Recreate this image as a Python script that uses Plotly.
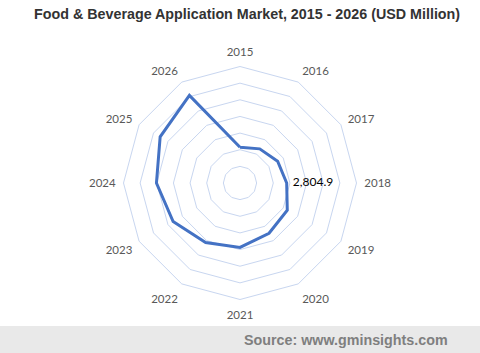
import plotly.graph_objects as go

years = ["2015", "2016", "2017", "2018", "2019", "2020", "2021",
         "2022", "2023", "2024", "2025", "2026"]
values = [2150, 2370, 2610, 2804.9, 3280, 3490, 3870, 4130, 4640, 5020, 5540, 6080]
labels = ["", "", "", "2,804.9", "", "", "", "", "", "", "", ""]

W, H = 480, 353
cx, cy, R = 240, 183, 116.5

theta = years + [years[0]]
r = values + [values[0]]
txt = [("\u00a0\u00a0" + t) if t else "" for t in labels] + [""]

fig = go.Figure()
fig.add_trace(go.Scatterpolar(
    r=r, theta=theta, mode="lines+text", text=txt,
    textposition="middle right",
    textfont=dict(family="Lato, Liberation Sans, sans-serif", size=12, color="#000000"),
    line=dict(color="#4472C4", width=3),
    showlegend=False, hoverinfo="skip",
))

fig.update_layout(
    width=W, height=H,
    margin=dict(l=0, r=0, t=0, b=0),
    paper_bgcolor="white", plot_bgcolor="white",
    polar=dict(
        domain=dict(x=[(cx - R) / W, (cx + R) / W],
                    y=[(H - cy - R) / H, (H - cy + R) / H]),
        bgcolor="white",
        gridshape="linear",
        radialaxis=dict(range=[0, 7000], dtick=1000, showticklabels=False,
                        ticks="", showline=False, gridcolor="#c8d6f0", gridwidth=1),
        angularaxis=dict(direction="clockwise", rotation=90, showgrid=False,
                         showline=True, linecolor="#c8d6f0", linewidth=1,
                         ticks="outside", ticklen=5, tickcolor="rgba(0,0,0,0)",
                         tickfont=dict(family="Lato, Liberation Sans, sans-serif",
                                       size=11.5, color="#595959")),
    ),
    shapes=[dict(type="rect", xref="paper", yref="paper", x0=0, x1=1,
                 y0=0, y1=27 / H, fillcolor="#e9e9e9", line=dict(width=0), layer="below")],
    annotations=[
        dict(text="<b>Food &amp; Beverage Application Market, 2015 - 2026 (USD Million)</b>",
             xref="paper", yref="paper", x=247 / W, y=1 - 14 / H,
             xanchor="center", yanchor="middle", showarrow=False,
             font=dict(family="Liberation Sans, Arial, sans-serif", size=14.3, color="#333333")),
        dict(text="<b>Source: www.gminsights.com</b>",
             xref="paper", yref="paper", x=450 / W, y=13.5 / H,
             xanchor="right", yanchor="middle", showarrow=False,
             font=dict(family="Liberation Sans, Arial, sans-serif", size=14.3, color="#7f7f7f")),
    ],
)

fig.write_html("out.html")
